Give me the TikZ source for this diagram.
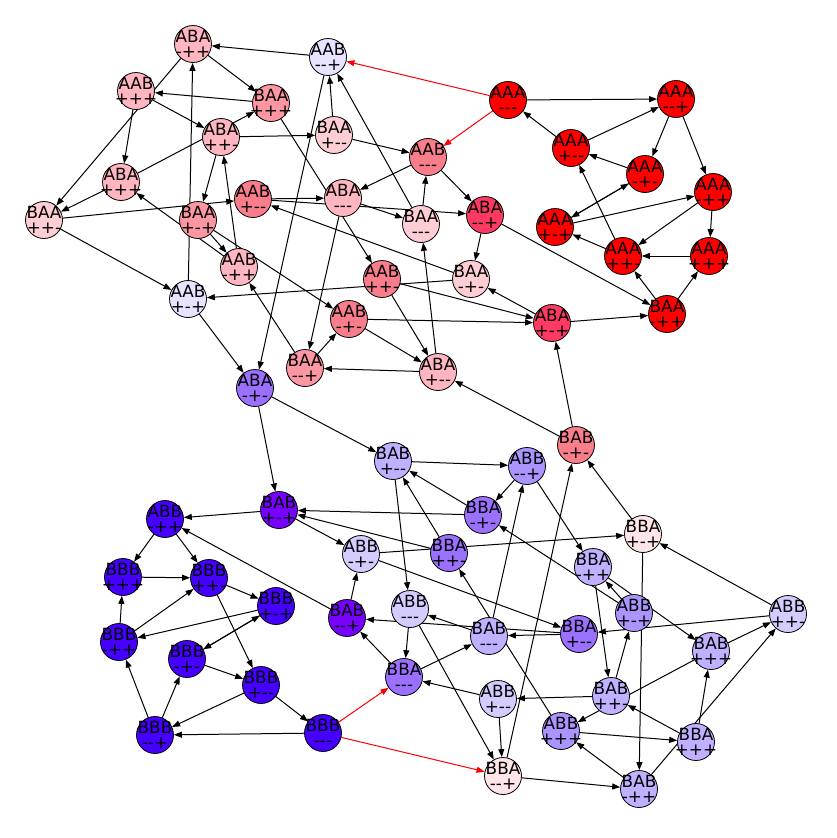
\documentclass[tikz,border=0pt]{standalone}
\usepackage{fontspec}
\newfontfamily\statefont{DejaVu Sans}
\usetikzlibrary{arrows.meta}
\definecolor{stred}{RGB}{255,0,0}
\definecolor{stcrimson}{RGB}{255,58,98}
\definecolor{stsalmon}{RGB}{250,125,140}
\definecolor{stpink}{RGB}{252,150,162}
\definecolor{stlightpink}{RGB}{255,182,192}
\definecolor{stpale}{RGB}{255,206,212}
\definecolor{stblush}{RGB}{255,228,232}
\definecolor{stlavender}{RGB}{232,228,255}
\definecolor{stlilac}{RGB}{212,204,255}
\definecolor{stlight}{RGB}{192,176,255}
\definecolor{stmedium}{RGB}{172,148,255}
\definecolor{stpurple}{RGB}{155,112,255}
\definecolor{stviolet}{RGB}{120,0,255}
\definecolor{stindigo}{RGB}{70,0,255}
\pgfdeclarelayer{edges}
\pgfsetlayers{edges,main}

\begin{document}
\begin{tikzpicture}[x=1pt, y=-1pt,
    st/.style={circle, draw=black, line width=0.8pt, minimum size=37pt, inner sep=0pt},
    lab/.style={align=center, inner sep=0pt, font=\statefont\fontsize{16.8}{15.5}\selectfont},
    arr/.style={-{Triangle[length=8pt,width=6pt]}, line width=1pt},
    hot/.style={arr, red}
  ]
  \useasboundingbox (0,0) rectangle (837,838);

  \foreach \id/\xx/\yy/\word/\sign/\col in {
      ABAmpp/193/44/ABA/-++/lightpink, AABmmp/328/57/AAB/-{}-+/lavender,
      AABppp/136/91/AAB/+++/lightpink, BAAppp/271/103/BAA/+++/pink,
      AAAmmm/508/100/AAA/-{}-{}-/red, AAAmmp/676/99/AAA/-{}-+/red,
      ABAppm/221/137/ABA/++-/lightpink, BAApmm/334/135/BAA/+-{}-/pale,
      AABmmm/428/157/AAB/-{}-{}-/salmon, AAApmm/571/148/AAA/+-{}-/red,
      AAAmpm/645/174/AAA/-+-/red, ABAppp/121/182/ABA/+++/lightpink,
      AABpmm/253/199/AAB/+-{}-/salmon, ABAmmm/343/198/ABA/-{}-{}-/lightpink,
      BAApmp/198/220/BAA/+-+/pink, BAAppm/44/220/BAA/++-/pale,
      BAAmmm/421/224/BAA/-{}-{}-/pale, ABAmmp/485/215/ABA/-{}-+/crimson,
      AAApmp/555/227/AAA/+-+/red, AAAmpp/713/192/AAA/-++/red,
      AABmpp/239/267/AAB/-++/lightpink, AABppm/382/279/AAB/++-/salmon,
      BAAmpm/471/279/BAA/-+-/pale, AAAppm/623/256/AAA/++-/red,
      AAAppp/709/256/AAA/+++/red, AABpmp/188/299/AAB/+-+/lavender,
      AABmpm/349/319/AAB/-+-/salmon, ABApmp/552/323/ABA/+-+/crimson,
      BAAmpp/667/314/BAA/-++/red, BAAmmp/305/368/BAA/-{}-+/pink,
      ABApmm/438/372/ABA/+-{}-/lightpink, ABAmpm/255/388/ABA/-+-/purple,
      BABmpm/576/445/BAB/-+-/salmon, BABpmm/393/461/BAB/+-{}-/light,
      ABBmmp/527/466/ABB/-{}-+/medium, BBAmpm/483/515/BBA/-+-/purple,
      BABpmp/279/510/BAB/+-+/violet, ABBmpp/165/519/ABB/-++/indigo,
      BBApmp/643/534/BBA/+-+/blush, ABBmpm/361/554/ABB/-+-/lilac,
      BBAppm/449/553/BBA/++-/purple, BBBppp/123/577/BBB/+++/indigo,
      BBBppm/209/578/BBB/++-/indigo, BBAmpp/593/567/BBA/-++/light,
      BBBpmp/276/606/BBB/+-+/indigo, ABBmmm/410/609/ABB/-{}-{}-/lilac,
      BABmmp/347/618/BAB/-{}-+/violet, ABBpmp/634/613/ABB/+-+/medium,
      ABBppm/788/614/ABB/++-/lilac, BBBmpp/119/642/BBB/-++/indigo,
      BBApmm/579/634/BBA/+-{}-/purple, BABmmm/489/636/BAB/-{}-{}-/light,
      BBBmpm/187/659/BBB/-+-/indigo, BABppp/711/651/BAB/+++/light,
      BBAmmm/404/677/BBA/-{}-{}-/purple, BBBpmm/261/685/BBB/+-{}-/indigo,
      ABBpmm/498/699/ABB/+-{}-/lilac, BABppm/611/696/BAB/++-/light,
      BBBmmp/155/735/BBB/-{}-+/indigo, BBBmmm/323/733/BBB/-{}-{}-/indigo,
      ABBppp/561/731/ABB/+++/medium, BBAppp/696/742/BBA/+++/light,
      BBAmmp/503/776/BBA/-{}-+/blush, BABmpp/639/789/BAB/-++/light}
    \node[st, fill=st\col, label={[lab]center:\word\\\sign}] (\id) at (\xx,\yy) {};

  \begin{pgfonlayer}{edges}
    \foreach \a/\b in {
        ABAmpp/BAAppp, ABAmpp/BAAppm, AABmmp/ABAmpp, AABmmp/ABAmpm,
        AABppp/ABAppm, AABppp/ABAppp, BAAppp/AABppp, BAAppp/AABppm,
        AAAmmm/AAAmmp, AAAmmp/AAAmpm, AAAmmp/AAAmpp,
        ABAppm/BAApmm, ABAppm/BAApmp, BAApmm/AABmmm, BAApmm/AABmmp,
        AABmmm/ABAmmm, AABmmm/ABAmmp, AAApmm/AAAmmm, AAApmm/AAAmmp,
        AAAmpm/AAApmm, AAAmpm/AAApmp, ABAppp/BAAppm, ABAppp/BAAppp,
        AABpmm/ABAmmm, AABpmm/ABAmmp, ABAmmm/BAAmmm, ABAmmm/BAAmmp,
        BAApmp/AABmpm, BAApmp/AABmpp, BAAppm/AABpmm, BAAppm/AABpmp,
        BAAmmm/AABmmm, BAAmmm/AABmmp, ABAmmp/BAAmpm, ABAmmp/BAAmpp,
        AAApmp/AAAmpm, AAApmp/AAAmpp, AAAmpp/AAAppm, AAAmpp/AAAppp,
        AABmpp/ABAppm, AABmpp/ABAppp, AABppm/ABApmm, AABppm/ABApmp,
        BAAmpm/AABpmm, BAAmpm/AABpmp, AAAppm/AAApmp, AAAppm/AAApmm,
        AAAppp/AAAppm, AABpmp/ABAmpp, AABpmp/ABAmpm,
        AABmpm/ABApmm, AABmpm/ABApmp, ABApmp/BAAmpm, ABApmp/BAAmpp,
        BAAmpp/AAAppm, BAAmpp/AAAppp, BAAmmp/AABmpm, BAAmmp/AABmpp,
        ABApmm/BAAmmm, ABApmm/BAAmmp, ABAmpm/BABpmp, ABAmpm/BABpmm,
        BABmpm/ABApmp, BABmpm/ABApmm, BABpmm/ABBmmp, BABpmm/ABBmmm,
        ABBmmp/BBAmpm, ABBmmp/BBAmpp, BBAmpm/BABpmm, BBAmpm/BABpmp,
        BABpmp/ABBmpp, BABpmp/ABBmpm, ABBmpp/BBBppp, ABBmpp/BBBppm,
        BBApmp/BABmpm, BBApmp/BABmpp, ABBmpm/BBApmm, ABBmpm/BBApmp,
        BBAppm/BABpmm, BBAppm/BABpmp, BBBppp/BBBppm,
        BBBppm/BBBpmp, BBBppm/BBBpmm, BBAmpp/BABppm, BBAmpp/BABppp,
        BBBpmp/BBBmpp, BBBpmp/BBBmpm, ABBmmm/BBAmmm, ABBmmm/BBAmmp,
        BABmmp/ABBmpp, BABmmp/ABBmpm, ABBpmp/BBAmpm, ABBpmp/BBAmpp,
        ABBppm/BBApmm, ABBppm/BBApmp, BBBmpp/BBBppp, BBBmpp/BBBppm,
        BBApmm/BABmmm, BBApmm/BABmmp, BABmmm/ABBmmp, BABmmm/ABBmmm,
        BBBmpm/BBBpmp, BBBmpm/BBBpmm, BABppp/ABBppm, BABppp/ABBppp,
        BBAmmm/BABmmm, BBAmmm/BABmmp, BBBpmm/BBBmmp, BBBpmm/BBBmmm,
        ABBpmm/BBAmmm, ABBpmm/BBAmmp, BABppm/ABBpmm, BABppm/ABBpmp,
        BBBmmp/BBBmpm, BBBmmp/BBBmpp, BBBmmm/BBBmmp,
        ABBppp/BBAppp, ABBppp/BBAppm, BBAppp/BABppm, BBAppp/BABppp,
        BBAmmp/BABmpm, BBAmmp/BABmpp, BABmpp/ABBppp, BABmpp/ABBppm}
      \draw[arr] (\a) -- (\b);
    \foreach \a/\b in {AAAmmm/AABmmm, AAAmmm/AABmmp, BBBmmm/BBAmmm, BBBmmm/BBAmmp}
      \draw[hot] (\a) -- (\b);
  \end{pgfonlayer}
\end{tikzpicture}
\end{document}
